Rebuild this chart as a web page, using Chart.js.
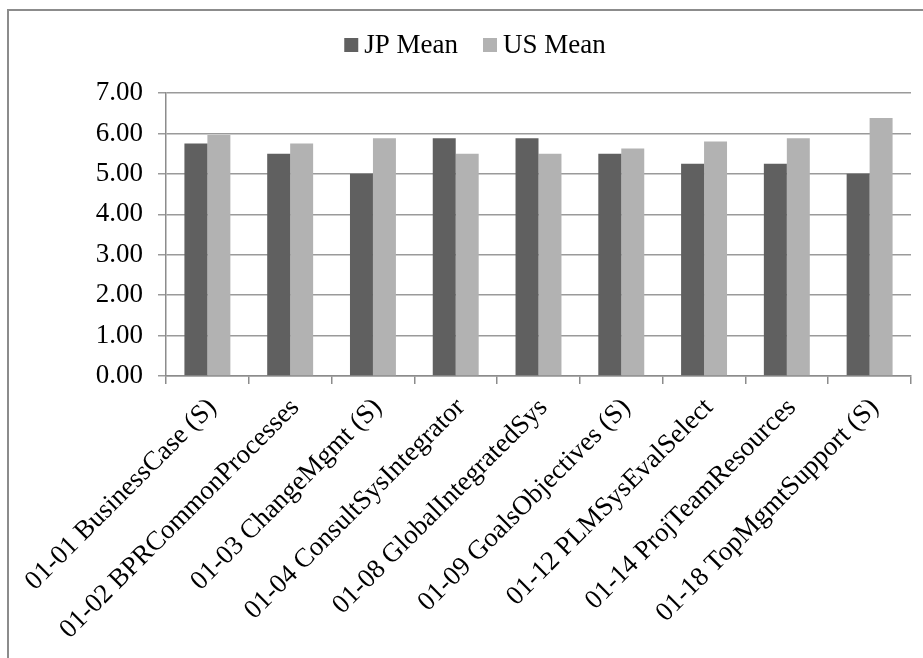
<!DOCTYPE html>
<html>
<head>
<meta charset="utf-8">
<script src="https://cdn.jsdelivr.net/npm/chart.js@4"></script>
<style>
  body { margin: 0; background: #fff; }
  canvas { display: block; }
</style>
</head>
<body>
<canvas id="meanChart" width="923" height="658"></canvas>
<script>
var categories = [
    "01-01 BusinessCase (S)",
    "01-02 BPRCommonProcesses",
    "01-03 ChangeMgmt (S)",
    "01-04 ConsultSysIntegrator",
    "01-08 GlobalIntegratedSys",
    "01-09 GoalsObjectives (S)",
    "01-12 PLMSysEvalSelect",
    "01-14 ProjTeamResources",
    "01-18 TopMgmtSupport (S)"
];
var jpMean = [5.75, 5.5, 5.0, 5.88, 5.88, 5.5, 5.25, 5.25, 5.0];
var usMean = [5.96, 5.75, 5.88, 5.5, 5.5, 5.63, 5.8, 5.88, 6.38];
var yTicks = [0, 1, 2, 3, 4, 5, 6, 7];

var serif = "'Liberation Serif', 'Times New Roman', serif";

// white background and the outer frame line
var framePlugin = {
    id: "frame",
    beforeDraw: function (chart) {
        var ctx = chart.ctx;
        ctx.save();
        ctx.fillStyle = "#fff";
        ctx.fillRect(0, 0, chart.width, chart.height);
        ctx.strokeStyle = "#8c8c8c";
        ctx.lineWidth = 2;
        ctx.strokeRect(8, 10, chart.width + 20, chart.height + 20);
        ctx.restore();
    }
};

// legend drawn by hand so the swatch sits close to its text
var legendPlugin = {
    id: "tightLegend",
    afterDraw: function (chart) {
        var ctx = chart.ctx;
        var sets = chart.data.datasets;
        var box = 14, gap = 6, space = 25, total = 0;
        ctx.save();
        ctx.font = "27px " + serif;
        ctx.textBaseline = "middle";
        sets.forEach(function (ds, i) {
            total += box + gap + ctx.measureText(ds.label).width;
            if (i) total += space;
        });
        var x = 475 - total / 2, y = 45;
        sets.forEach(function (ds) {
            ctx.fillStyle = ds.backgroundColor;
            ctx.fillRect(x, y - box / 2, box, box);
            x += box + gap;
            ctx.fillStyle = "#000";
            ctx.fillText(ds.label, x, y + 1);
            x += ctx.measureText(ds.label).width + space;
        });
        ctx.restore();
    }
};

new Chart("meanChart", {
    type: "bar",
    data: {
        labels: categories,
        datasets: [{
            label: "JP Mean",
            data: jpMean,
            backgroundColor: "#606060",
            barPercentage: 1,
            categoryPercentage: 0.555
        }, {
            label: "US Mean",
            data: usMean,
            backgroundColor: "#b2b2b2",
            barPercentage: 1,
            categoryPercentage: 0.555
        }]
    },
    options: {
        responsive: false,
        animation: false,
        layout: {
            padding: { top: 93, left: 96, right: 12, bottom: 0 }
        },
        plugins: {
            legend: { display: false },
            tooltip: { enabled: false }
        },
        scales: {
            x: {
                grid: {
                    drawOnChartArea: false,
                    tickLength: 8,
                    color: "#8c8c8c",
                    lineWidth: 1.5
                },
                border: { color: "#8c8c8c", width: 1.5 },
                ticks: {
                    color: "#000",
                    font: { family: serif, size: 27 },
                    minRotation: 45,
                    maxRotation: 45,
                    autoSkip: false,
                    padding: 8,
                    labelOffset: 5
                },
                afterFit: function (scale) {
                    scale.height = 282;
                    scale.paddingLeft = 0;
                    scale.paddingRight = 0;
                }
            },
            y: {
                min: 0,
                max: 7,
                afterBuildTicks: function (scale) {
                    scale.ticks = yTicks.map(function (v) { return { value: v }; });
                },
                ticks: {
                    padding: 15,
                    color: "#000",
                    font: { family: serif, size: 27 },
                    callback: function (v) { return v.toFixed(2); }
                },
                grid: {
                    color: "#9a9a9a",
                    lineWidth: 1.5,
                    tickLength: 8
                },
                border: { color: "#8c8c8c", width: 1.5 },
                afterFit: function (scale) {
                    scale.width = 70;
                }
            }
        }
    },
    plugins: [framePlugin, legendPlugin]
});
</script>
</body>
</html>
